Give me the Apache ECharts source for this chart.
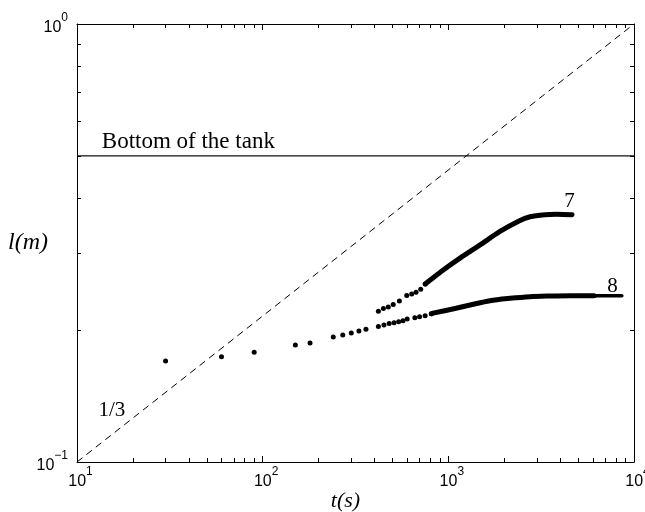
<!DOCTYPE html>
<html>
<head>
<meta charset="utf-8">
<script src="https://cdn.jsdelivr.net/npm/echarts@6/dist/echarts.min.js"></script>
<style>
  html, body { margin: 0; padding: 0; background: #fff; }
  #chart { width: 645px; height: 512px; }
</style>
</head>
<body>
<div id="chart"></div>
<script>
  // run 7: separate early samples, then the dense part drawn as a thick band
  const run7SparseT = [420, 447, 475, 505, 545, 597, 635, 670, 710, 751]
  const run7SparseL = [0.221, 0.224, 0.226, 0.229, 0.233, 0.240, 0.242, 0.244, 0.248, 0.255]
  const run7DenseT = [751, 796, 935, 1156, 1482, 1898, 2432, 2754, 3118, 3836, 4637]
  const run7DenseL = [0.255, 0.260, 0.274, 0.292, 0.313, 0.336, 0.356, 0.363, 0.366, 0.368, 0.367]

  // run 8
  const run8SparseT = [30, 60, 90, 150, 180, 240, 270, 300, 330, 360, 420, 450, 480, 510, 540, 570, 600, 660, 700, 750, 810]
  const run8SparseL = [0.170, 0.174, 0.178, 0.185, 0.187, 0.193, 0.195, 0.197, 0.199, 0.201, 0.204, 0.2055, 0.207, 0.208, 0.209, 0.210, 0.212, 0.2136, 0.2147, 0.2158, 0.218]
  const run8DenseT = [810, 840, 1086, 1309, 1676, 2147, 2753, 3530, 4525, 6100]
  const run8DenseL = [0.218, 0.219, 0.2241, 0.2282, 0.2335, 0.2364, 0.2385, 0.2393, 0.2397, 0.2397]
  const run8TailT = [6100, 7000, 8000, 8600]
  const run8TailL = [0.2397, 0.2397, 0.2397, 0.2397]

  // slope 1/3 guide and tank bottom
  const slopeT = [10, 10000]
  const slopeL = [0.1, 1]
  const tankT = [10, 10000]
  const tankL = [0.5, 0.5]

  const xMajor = [10, 100, 1000, 10000]
  const xMinor = [20, 30, 40, 50, 60, 70, 80, 90, 200, 300, 400, 500, 600, 700, 800, 900, 2000, 3000, 4000, 5000, 6000, 7000, 8000, 9000]
  const yMajor = [0.1, 1]
  const yMinor = [0.2, 0.3, 0.4, 0.5, 0.6, 0.7, 0.8, 0.9]

  const pair = (xs, ys) => xs.map((x, i) => [x, ys[i]])

  const black = '#000'
  const serif = '"Liberation Serif", "DejaVu Serif", serif'
  const sans = '"Liberation Sans", Arial, sans-serif'

  const powLabel = {
    b: { fontSize: 16, fontFamily: sans, color: black, lineHeight: 24, verticalAlign: 'bottom' },
    s: { fontSize: 12, fontFamily: sans, color: black, verticalAlign: 'top' },
    p: { width: 7 }
  }
  const expOf = v => Math.round(Math.log10(v))

  function makeAxis(pos, kind, ticks, len, extra) {
    const isX = pos === 'bottom' || pos === 'top'
    return Object.assign({
      type: 'log',
      logBase: 10,
      min: isX ? 10 : 0.1,
      max: isX ? 10000 : 1,
      position: pos,
      axisLine: { show: kind === 'major', onZero: false, lineStyle: { color: black, width: 1 } },
      axisTick: { show: true, inside: true, length: len, customValues: ticks, lineStyle: { color: black, width: 1 } },
      axisLabel: { show: false },
      splitLine: { show: false },
      minorTick: { show: false }
    }, extra || {})
  }

  const chart = echarts.init(document.getElementById('chart'), null, { renderer: 'canvas' })

  chart.setOption({
    backgroundColor: '#fff',
    animation: false,
    grid: { left: 77, right: 11, top: 24, bottom: 50, containLabel: false, outerBoundsMode: 'none' },
    xAxis: [
      makeAxis('bottom', 'major', xMajor, 6, {
        name: 't(s)',
        nameLocation: 'middle',
        nameGap: 28,
        nameMoveOverlap: false,
        nameTextStyle: { fontFamily: serif, fontStyle: 'italic', fontSize: 22, color: black, padding: [0, 20, 0, 0] },
        axisLabel: {
          show: true,
          customValues: xMajor,
          margin: 4,
          formatter: v => '{p|}{b|10}{s|' + expOf(v) + '}',
          rich: powLabel
        }
      }),
      makeAxis('bottom', 'minor', xMinor, 4),
      makeAxis('top', 'major', xMajor, 6),
      makeAxis('top', 'minor', xMinor, 4)
    ],
    yAxis: [
      makeAxis('left', 'major', yMajor, 6, {
        name: 'l(m)',
        nameLocation: 'middle',
        nameRotate: 0,
        nameGap: 29,
        nameMoveOverlap: false,
        nameTextStyle: { fontFamily: serif, fontStyle: 'italic', fontSize: 24, color: black, padding: [24, 0, 0, 0] },
        axisLabel: {
          show: true,
          customValues: yMajor,
          margin: 9,
          formatter: v => {
            const e = expOf(v)
            return '{b|10}{s|' + (e < 0 ? '\u2212' + (-e) : e) + '}'
          },
          rich: powLabel
        }
      }),
      makeAxis('left', 'minor', yMinor, 4),
      makeAxis('right', 'major', yMajor, 6),
      makeAxis('right', 'minor', yMinor, 4)
    ],
    series: [
      {
        name: 'slope',
        type: 'line',
        data: pair(slopeT, slopeL),
        symbol: 'none',
        lineStyle: { color: black, width: 1, type: [7, 5] },
        z: 2
      },
      {
        name: 'tank',
        type: 'line',
        data: pair(tankT, tankL),
        symbol: 'none',
        lineStyle: { color: '#111', width: 1.2 },
        z: 2
      },
      {
        name: 'run7dots',
        type: 'scatter',
        data: pair(run7SparseT, run7SparseL),
        symbolSize: 5,
        itemStyle: { color: black, opacity: 1 },
        z: 3
      },
      {
        name: 'run7',
        type: 'line',
        data: pair(run7DenseT, run7DenseL),
        smooth: 0.3,
        symbol: 'none',
        lineStyle: { color: black, width: 5, cap: 'round', join: 'round' },
        z: 3
      },
      {
        name: 'run8dots',
        type: 'scatter',
        data: pair(run8SparseT, run8SparseL),
        symbolSize: 5,
        itemStyle: { color: black, opacity: 1 },
        z: 3
      },
      {
        name: 'run8',
        type: 'line',
        data: pair(run8DenseT, run8DenseL),
        smooth: 0.3,
        symbol: 'none',
        lineStyle: { color: black, width: 5, cap: 'round', join: 'round' },
        z: 3
      },
      {
        name: 'run8tail',
        type: 'line',
        data: pair(run8TailT, run8TailL),
        symbol: 'none',
        lineStyle: { color: black, width: 3.5, cap: 'round' },
        z: 3
      },
      {
        name: 'notes',
        type: 'scatter',
        symbolSize: 0,
        silent: true,
        itemStyle: { opacity: 1 },
        data: [
          { value: [13.6, 0.5], name: 'Bottom of the tank', label: { position: 'top', align: 'left', distance: 2, fontSize: 23 } },
          { value: [4500, 0.394], name: '7' },
          { value: [7650, 0.252], name: '8' },
          { value: [15.4, 0.131], name: '1/3' }
        ],
        label: {
          show: true,
          position: 'inside',
          formatter: '{b}',
          fontFamily: serif,
          fontSize: 21,
          color: black
        },
        z: 4
      }
    ]
  })
</script>
</body>
</html>
